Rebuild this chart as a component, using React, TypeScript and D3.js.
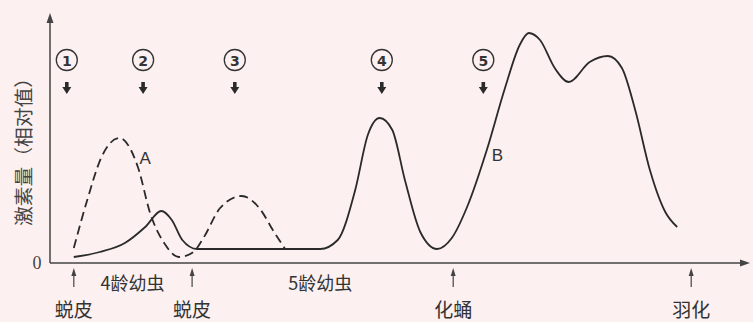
import React from "react";
import * as d3 from "d3";

// Hormone curve A (dashed) — [time, relative value]
const seriesAX = [3.4, 5.3, 7.3, 9.9, 12.6, 14.3, 16.4, 18.4, 20.4, 22.0, 24.3, 27.4, 30.0, 32.0, 33.6];
const seriesAY = [6, 25, 42, 50, 38, 20, 7.6, 2.4, 4.2, 10.4, 22, 26.8, 21.6, 12.4, 5.6];

// Hormone curve B (solid)
const seriesBX = [3.4, 7.1, 10.7, 13.6, 15.9, 17.4, 18.9, 21, 30, 38.6, 41.1, 43.6, 45.4, 47.1, 48.9, 50.7, 52.9, 55.3, 57.4, 59.7, 62.4, 65, 67.1, 68.4, 70, 72.1, 74.1, 77.1, 79.7, 81.7, 83.6, 85.7, 87.9, 89.6];
const seriesBY = [2.4, 4.4, 8, 14.4, 20.8, 17.2, 9.2, 5.6, 5.6, 5.6, 9.2, 29.2, 51.2, 58, 53.2, 33.2, 12.4, 5.6, 10, 23.2, 45.2, 70, 87.2, 92, 89.2, 78, 72.4, 80.4, 82.8, 78, 61.2, 37.2, 20.4, 14.4];

// Numbered markers (①–⑤)
const markerLabels = ["1", "2", "3", "4", "5"];
const markerX = [2.4, 13.3, 26.4, 47.4, 61.9];

// Events under the axis
const eventLabels = ["蜕皮", "蜕皮", "化蛹", "羽化"];
const eventX = [3.4, 20.3, 57.6, 91.6];

// Stage labels
const stageLabels = ["4龄幼虫", "5龄幼虫"];
const stageX = [11.8, 38.6];

const yAxisTitle = "激素量（相对值）";
const zeroLabel = "0";

const W = 753;
const H = 322;

export default function App() {
  const x = d3.scaleLinear().domain([0, 100]).range([50, 750]);
  const y = d3.scaleLinear().domain([0, 100]).range([263, 13]);

  const line = d3
    .line<[number, number]>()
    .x((d) => x(d[0]))
    .y((d) => y(d[1]))
    .curve(d3.curveMonotoneX);

  const dataA: [number, number][] = seriesAX.map((v, i) => [v, seriesAY[i]]);
  const dataB: [number, number][] = seriesBX.map((v, i) => [v, seriesBY[i]]);

  const ink = "#2a2a2a";
  const cjk = "'Noto Sans CJK SC', 'Noto Sans', sans-serif";
  const serif = "'Liberation Serif', 'DejaVu Serif', serif";
  const x0 = x(0);
  const y0 = y(0);

  return (
    <svg
      width={W}
      height={H}
      style={{ position: "absolute", left: 0, top: 0, background: "#fcf0f0" }}
    >
      <rect x={0} y={0} width={W} height={H} fill="#fcf0f0" />
      {/* axes */}
      <line x1={x0} y1={y0} x2={x(100) - 6} y2={y0} stroke="#444" strokeWidth={1.5} />
      <path d={`M${x(100)},${y0} L${x(100) - 10},${y0 - 3.5} L${x(100) - 10},${y0 + 3.5} Z`} fill="#444" />
      <line x1={x0} y1={y0} x2={x0} y2={y(100) + 6} stroke="#444" strokeWidth={1.5} />
      <path d={`M${x0},${y(100)} L${x0 - 3.5},${y(100) + 10} L${x0 + 3.5},${y(100) + 10} Z`} fill="#444" />
      <text x={x0 - 13} y={y0} fontFamily={serif} fontSize={18} fill="#444" textAnchor="middle" dominantBaseline="central">
        {zeroLabel}
      </text>
      <text
        transform={`translate(22,${147}) rotate(-90)`}
        fontFamily={cjk}
        fontSize={19}
        fill="#444"
        textAnchor="middle"
        dominantBaseline="central"
        textLength={158}
        lengthAdjust="spacingAndGlyphs"
      >
        {yAxisTitle}
      </text>

      {/* curves */}
      <path d={line(dataA) || ""} fill="none" stroke={ink} strokeWidth={1.8} strokeDasharray="9 5" />
      <path d={line(dataB) || ""} fill="none" stroke={ink} strokeWidth={1.8} />
      <text x={x(13.6)} y={y(42)} fontFamily="'Liberation Sans', sans-serif" fontSize={17} fill="#333" textAnchor="middle" dominantBaseline="central">
        A
      </text>
      <text x={x(63.9)} y={y(43)} fontFamily="'Liberation Sans', sans-serif" fontSize={17} fill="#333" textAnchor="middle" dominantBaseline="central">
        B
      </text>

      {/* markers */}
      {markerLabels.map((m, i) => {
        const cx = x(markerX[i]);
        return (
          <g key={"m" + i}>
            <circle cx={cx} cy={60} r={10.5} fill="none" stroke="#333" strokeWidth={1.3} />
            <text x={cx} y={61} fontFamily="'DejaVu Sans', sans-serif" fontWeight="bold" fontSize={14} fill="#333" textAnchor="middle" dominantBaseline="central">
              {m}
            </text>
            <path
              d={`M${cx - 1.8},82 L${cx + 1.8},82 L${cx + 1.8},87 L${cx + 4.5},87 L${cx},94 L${cx - 4.5},87 L${cx - 1.8},87 Z`}
              fill="#2a2a2a"
            />
          </g>
        );
      })}

      {/* events */}
      {eventLabels.map((e, i) => {
        const ex = x(eventX[i]);
        return (
          <g key={"e" + i}>
            <line x1={ex} y1={287} x2={ex} y2={273} stroke="#444" strokeWidth={1.2} />
            <path d={`M${ex},268 L${ex - 2.5},276 L${ex + 2.5},276 Z`} fill="#444" />
            <text x={ex} y={308} fontFamily={cjk} fontSize={19} fill="#333" textAnchor="middle" dominantBaseline="central">
              {e}
            </text>
          </g>
        );
      })}

      {/* stages */}
      {stageLabels.map((s, i) => (
        <text key={"s" + i} x={x(stageX[i])} y={282} fontFamily={cjk} fontSize={18} fill="#333" textAnchor="middle" dominantBaseline="central">
          {s}
        </text>
      ))}
    </svg>
  );
}
